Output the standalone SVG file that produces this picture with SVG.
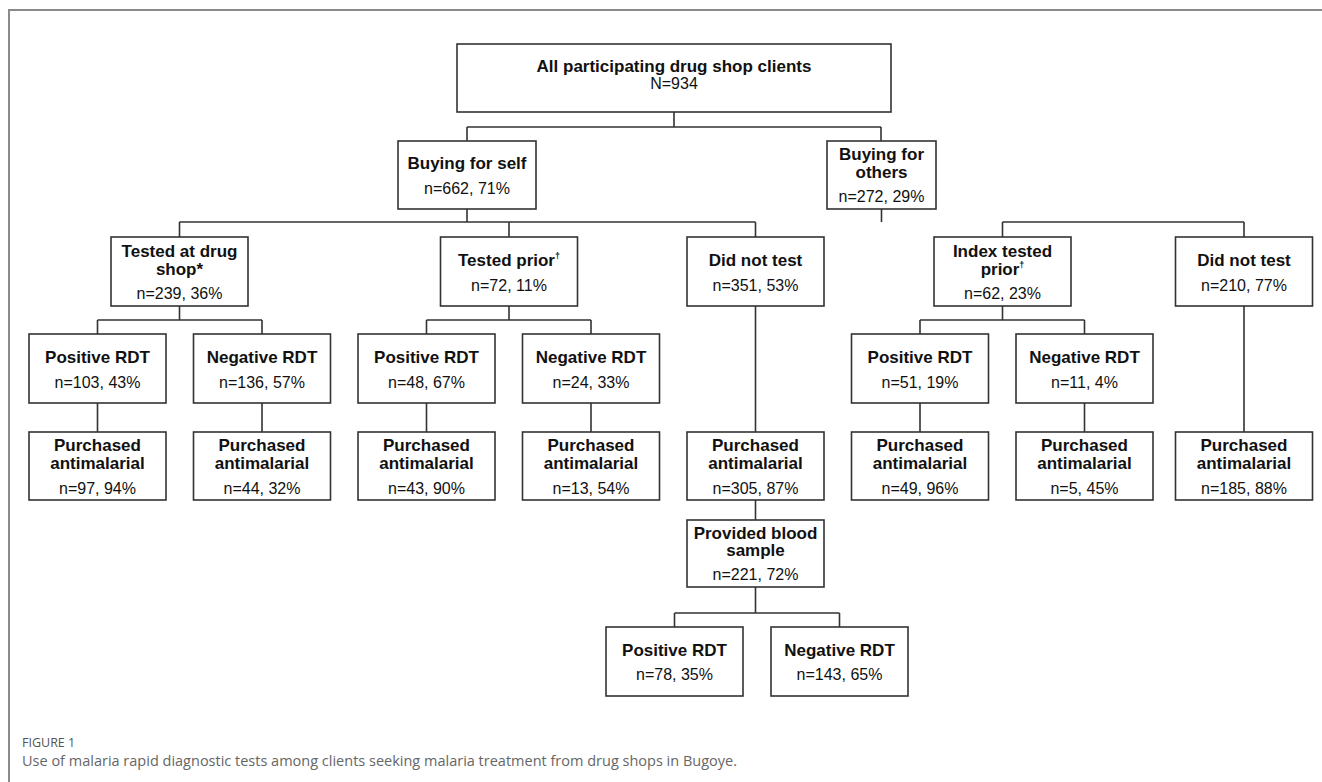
<svg xmlns="http://www.w3.org/2000/svg" width="1322" height="782" viewBox="0 0 1322 782">
<style>
.box{fill:#fff;stroke:#333;stroke-width:1.6}
.b{font-family:"Liberation Sans",Arial,sans-serif;font-weight:bold;font-size:17px;fill:#111;text-anchor:middle}
.r{font-family:"Liberation Sans",Arial,sans-serif;font-size:16px;fill:#111;text-anchor:middle}
.sup{font-size:9px}
.ln{fill:none;stroke:#333;stroke-width:1.6}
.frame{fill:none;stroke:#8a8a8a;stroke-width:2}
.figl{font-family:"Open Sans","Liberation Sans",sans-serif;font-size:12.5px;fill:#555}
.cap{font-family:"Open Sans","Liberation Sans",sans-serif;font-size:14.5px;fill:#666}
</style>
<rect width="1322" height="782" fill="#fff"/>
<path class="frame" d="M9,782 V10 H1322"/>

<g id="connectors" class="ln">
<path d="M674,112 V127 M467,127 H881 M467,127 V141 M881,127 V141"/>
<path d="M467,209 V222 M179.5,222 H755.5 M179.5,222 V237 M509,222 V237 M755.5,222 V237"/>
<path d="M881.5,209 V222 M1002.5,222 H1244 M1002.5,222 V237 M1244,222 V237"/>
<path d="M179.5,306 V320 M97.5,320 H262 M97.5,320 V334 M262,320 V334"/>
<path d="M509,306 V320 M426.5,320 H591 M426.5,320 V334 M591,320 V334"/>
<path d="M1002.5,306 V320 M920,320 H1084.5 M920,320 V334 M1084.5,320 V334"/>
<path d="M755.5,306 V432 M1244,306 V432"/>
<path d="M97.5,403 V432 M262,403 V432 M426.5,403 V432 M591,403 V432 M920,403 V432 M1084.5,403 V432"/>
<path d="M755.5,500 V520"/>
<path d="M755.5,587 V613 M674.5,613 H839.5 M674.5,613 V627 M839.5,613 V627"/>
</g>

<g id="n-all"><rect class="box" x="457" y="44" width="434" height="68"/>
<text class="b" x="674" y="72">All participating drug shop clients</text>
<text class="r" x="674" y="89">N=934</text></g>

<g id="n-self"><rect class="box" x="398" y="141" width="138" height="68"/>
<text class="b" x="467" y="169">Buying for self</text>
<text class="r" x="467" y="194">n=662, 71%</text></g>

<g id="n-others"><rect class="box" x="827" y="141" width="109" height="68"/>
<text class="b" x="881.5" y="160">Buying for</text>
<text class="b" x="881.5" y="178">others</text>
<text class="r" x="881.5" y="202">n=272, 29%</text></g>

<g id="n-tested-shop"><rect class="box" x="111" y="237" width="137" height="69"/>
<text class="b" x="179.5" y="256.5">Tested at drug</text>
<text class="b" x="179.5" y="275">shop*</text>
<text class="r" x="179.5" y="299">n=239, 36%</text></g>

<g id="n-tested-prior"><rect class="box" x="440.5" y="237" width="137" height="69"/>
<text class="b" x="509" y="266">Tested prior<tspan class="sup" dy="-7">†</tspan></text>
<text class="r" x="509" y="291">n=72, 11%</text></g>

<g id="n-notest-self"><rect class="box" x="687" y="237" width="137" height="69"/>
<text class="b" x="755.5" y="266">Did not test</text>
<text class="r" x="755.5" y="291">n=351, 53%</text></g>

<g id="n-index-prior"><rect class="box" x="934" y="237" width="137" height="69"/>
<text class="b" x="1002.5" y="256.5">Index tested</text>
<text class="b" x="1002.5" y="275">prior<tspan class="sup" dy="-7">†</tspan></text>
<text class="r" x="1002.5" y="299">n=62, 23%</text></g>

<g id="n-notest-others"><rect class="box" x="1175.5" y="237" width="137" height="69"/>
<text class="b" x="1244" y="266">Did not test</text>
<text class="r" x="1244" y="291">n=210, 77%</text></g>

<g id="n-pos1"><rect class="box" x="29" y="334" width="137" height="69"/>
<text class="b" x="97.5" y="362.5">Positive RDT</text>
<text class="r" x="97.5" y="387.5">n=103, 43%</text></g>

<g id="n-neg1"><rect class="box" x="193.5" y="334" width="137" height="69"/>
<text class="b" x="262" y="362.5">Negative RDT</text>
<text class="r" x="262" y="387.5">n=136, 57%</text></g>

<g id="n-pos2"><rect class="box" x="358" y="334" width="137" height="69"/>
<text class="b" x="426.5" y="362.5">Positive RDT</text>
<text class="r" x="426.5" y="387.5">n=48, 67%</text></g>

<g id="n-neg2"><rect class="box" x="522.5" y="334" width="137" height="69"/>
<text class="b" x="591" y="362.5">Negative RDT</text>
<text class="r" x="591" y="387.5">n=24, 33%</text></g>

<g id="n-pos3"><rect class="box" x="851.5" y="334" width="137" height="69"/>
<text class="b" x="920" y="362.5">Positive RDT</text>
<text class="r" x="920" y="387.5">n=51, 19%</text></g>

<g id="n-neg3"><rect class="box" x="1016" y="334" width="137" height="69"/>
<text class="b" x="1084.5" y="362.5">Negative RDT</text>
<text class="r" x="1084.5" y="387.5">n=11, 4%</text></g>

<g id="n-pur1"><rect class="box" x="29" y="432" width="137" height="68"/>
<text class="b" x="97.5" y="451">Purchased</text><text class="b" x="97.5" y="469">antimalarial</text>
<text class="r" x="97.5" y="494">n=97, 94%</text></g>

<g id="n-pur2"><rect class="box" x="193.5" y="432" width="137" height="68"/>
<text class="b" x="262" y="451">Purchased</text><text class="b" x="262" y="469">antimalarial</text>
<text class="r" x="262" y="494">n=44, 32%</text></g>

<g id="n-pur3"><rect class="box" x="358" y="432" width="137" height="68"/>
<text class="b" x="426.5" y="451">Purchased</text><text class="b" x="426.5" y="469">antimalarial</text>
<text class="r" x="426.5" y="494">n=43, 90%</text></g>

<g id="n-pur4"><rect class="box" x="522.5" y="432" width="137" height="68"/>
<text class="b" x="591" y="451">Purchased</text><text class="b" x="591" y="469">antimalarial</text>
<text class="r" x="591" y="494">n=13, 54%</text></g>

<g id="n-pur5"><rect class="box" x="687" y="432" width="137" height="68"/>
<text class="b" x="755.5" y="451">Purchased</text><text class="b" x="755.5" y="469">antimalarial</text>
<text class="r" x="755.5" y="494">n=305, 87%</text></g>

<g id="n-pur6"><rect class="box" x="851.5" y="432" width="137" height="68"/>
<text class="b" x="920" y="451">Purchased</text><text class="b" x="920" y="469">antimalarial</text>
<text class="r" x="920" y="494">n=49, 96%</text></g>

<g id="n-pur7"><rect class="box" x="1016" y="432" width="137" height="68"/>
<text class="b" x="1084.5" y="451">Purchased</text><text class="b" x="1084.5" y="469">antimalarial</text>
<text class="r" x="1084.5" y="494">n=5, 45%</text></g>

<g id="n-pur8"><rect class="box" x="1175.5" y="432" width="137" height="68"/>
<text class="b" x="1244" y="451">Purchased</text><text class="b" x="1244" y="469">antimalarial</text>
<text class="r" x="1244" y="494">n=185, 88%</text></g>

<g id="n-blood"><rect class="box" x="687" y="520" width="137" height="67"/>
<text class="b" x="755.5" y="538.5">Provided blood</text><text class="b" x="755.5" y="556">sample</text>
<text class="r" x="755.5" y="580">n=221, 72%</text></g>

<g id="n-pos4"><rect class="box" x="606" y="627" width="137" height="69"/>
<text class="b" x="674.5" y="656">Positive RDT</text>
<text class="r" x="674.5" y="680">n=78, 35%</text></g>

<g id="n-neg4"><rect class="box" x="771" y="627" width="137" height="69"/>
<text class="b" x="839.5" y="656">Negative RDT</text>
<text class="r" x="839.5" y="680">n=143, 65%</text></g>

<g id="caption">
<text class="figl" x="22" y="746.5">FIGURE 1</text>
<text class="cap" x="22" y="766" textLength="715" lengthAdjust="spacingAndGlyphs">Use of malaria rapid diagnostic tests among clients seeking malaria treatment from drug shops in Bugoye.</text>
</g>
</svg>
